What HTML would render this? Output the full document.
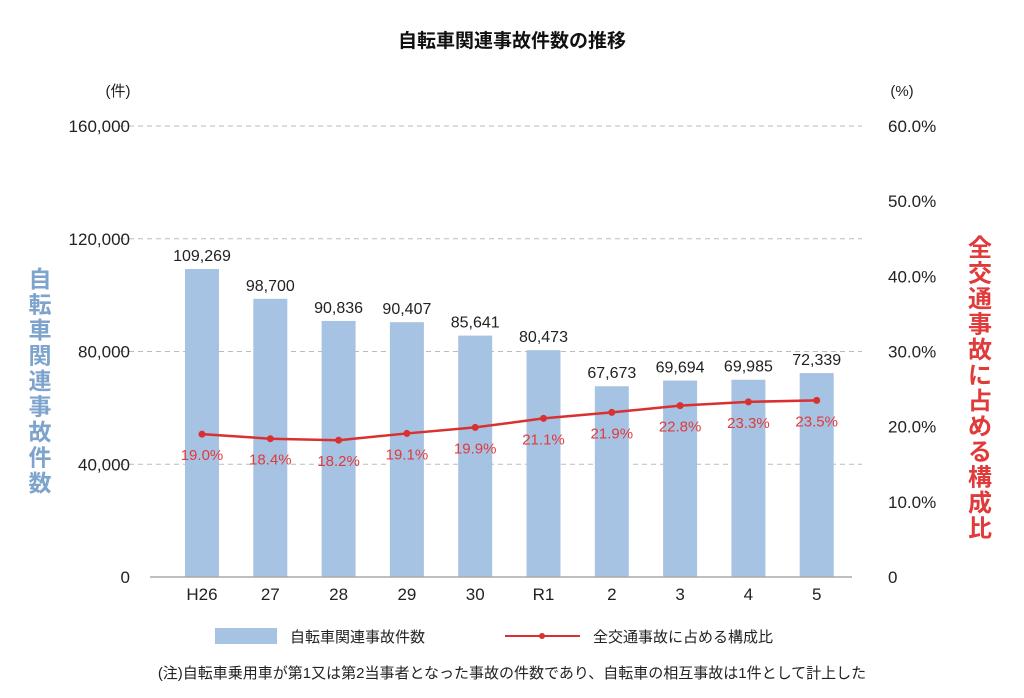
<!DOCTYPE html>
<html><head><meta charset="utf-8"><style>
html,body{margin:0;padding:0;background:#fff;}
svg{display:block;font-family:"Liberation Sans","Noto Sans CJK JP",sans-serif;}
</style></head><body>
<svg id="chart" width="1024" height="698" viewBox="0 0 1024 698" xmlns="http://www.w3.org/2000/svg">
<text x="512" y="47" text-anchor="middle" font-size="19" font-weight="bold" fill="#111">自転車関連事故件数の推移</text>
<text x="118" y="96" text-anchor="middle" font-size="15" fill="#222">(件)</text>
<text x="902" y="96" text-anchor="middle" font-size="15" fill="#222">(%)</text>
<g id="grid"></g>
<g id="bars"></g>
<line x1="150" y1="577" x2="852" y2="577" stroke="#aaa" stroke-width="1.5"/>
<g id="lefttick"></g>
<g id="righttick"></g>
<g id="xlab"></g>
<g id="line"></g>
<g font-size="23" fill="#7ea3cc" text-anchor="middle" font-weight="bold" id="ltitle"></g>
<g font-size="24" fill="#e03a3a" text-anchor="middle" font-weight="bold" id="rtitle"></g>
<g>
  <rect x="215" y="628" width="62" height="16" fill="#a7c3e4"/>
  <text x="290" y="642" font-size="15" fill="#222">自転車関連事故件数</text>
  <line x1="505" y1="636" x2="580" y2="636" stroke="#d93030" stroke-width="2"/>
  <circle cx="542" cy="636" r="3" fill="#d93030"/>
  <text x="593" y="642" font-size="15" fill="#222">全交通事故に占める構成比</text>
</g>
<text x="512" y="678" text-anchor="middle" font-size="15" fill="#222">(注)自転車乗用車が第1又は第2当事者となった事故の件数であり、自転車の相互事故は1件として計上した</text>
</svg>
<script>
const categories=["H26","27","28","29","30","R1","2","3","4","5"];
const accidentCounts=[109269,98700,90836,90407,85641,80473,67673,69694,69985,72339];
const ratios=[19.0,18.4,18.2,19.1,19.9,21.1,21.9,22.8,23.3,23.5];
const leftTicks=[0,40000,80000,120000,160000];
const rightTicks=[0,10,20,30,40,50,60];
const NS="http://www.w3.org/2000/svg";
const y0=577, yTop=126;
const yL=v=>y0-(v/160000)*(y0-yTop);
const yR=v=>y0-(v/60)*(y0-yTop);
const xC=i=>202+i*68.3;
function mk(tag,attrs,parent,text){const e=document.createElementNS(NS,tag);for(const k in attrs)e.setAttribute(k,attrs[k]);if(text!==undefined)e.textContent=text;parent.appendChild(e);return e;}
const fmt=v=>v.toLocaleString("en-US");
const grid=document.getElementById("grid");
leftTicks.forEach(t=>{if(t===0)return;
 const l=mk("line",{x1:120,x2:862,y1:yL(t),y2:yL(t),stroke:"#bbb","stroke-dasharray":"5,4","stroke-width":1},grid);
 
 });
const lt=document.getElementById("lefttick");
leftTicks.forEach(t=>{const e=mk("text",{x:130,y:yL(t)+6,"text-anchor":"end","font-size":17,fill:"#222"},lt,t===0?"0":fmt(t));
 
 });
const rt=document.getElementById("righttick");
rightTicks.forEach(t=>{const e=mk("text",{x:888,y:yR(t)+6,"font-size":17,fill:"#222"},rt,t===0?"0":t.toFixed(1)+"%");
 
 });
const bars=document.getElementById("bars");
accidentCounts.forEach((v,i)=>{
 const r=mk("rect",{x:xC(i)-17,y:yL(v),width:34,height:y0-yL(v),fill:"#a7c3e4"},bars);
 
 
 const t=mk("text",{x:xC(i),y:yL(v)-8,"text-anchor":"middle","font-size":16,fill:"#222"},bars,fmt(v));
 
 });
const xl=document.getElementById("xlab");
categories.forEach((c,i)=>{const e=mk("text",{x:xC(i),y:600,"text-anchor":"middle","font-size":17,fill:"#222"},xl,c);
 
 });
const lg=document.getElementById("line");
const pts=ratios.map((v,i)=>xC(i)+","+yR(v)).join(" ");
const pl=mk("polyline",{points:pts,fill:"none",stroke:"#d93030","stroke-width":2.5},lg);


ratios.forEach((v,i)=>{
 const c=mk("circle",{cx:xC(i),cy:yR(v),r:3.5,fill:"#d93030"},lg);
 
 
 const t=mk("text",{x:xC(i),y:yR(v)+26,"text-anchor":"middle","font-size":15,fill:"#e03a3a"},lg,v.toFixed(1)+"%");
 
 });
const lttl=document.getElementById("ltitle");
[..."自転車関連事故件数"].forEach((ch,i)=>{const e=mk("text",{x:40,y:287+i*25.5},lttl,ch);
 
 });
const rttl=document.getElementById("rtitle");
[..."全交通事故に占める構成比"].forEach((ch,i)=>{const e=mk("text",{x:980,y:256+i*25.5},rttl,ch);
 
 });
</script>
</body></html>
